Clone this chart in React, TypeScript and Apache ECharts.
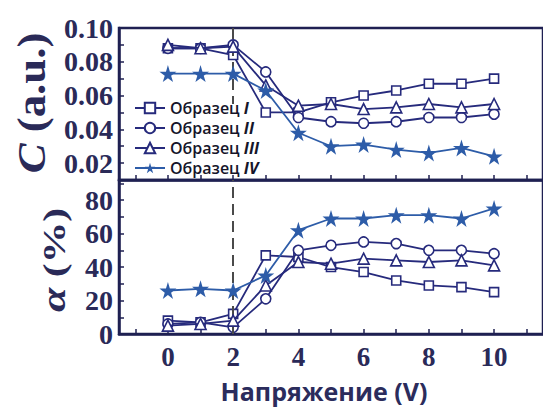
import React, { useEffect, useRef } from "react";
import * as echarts from "echarts";

const voltages = [0, 1, 2, 3, 4, 5, 6, 7, 8, 9, 10];
const seriesNames = ["Образец I", "Образец II", "Образец III", "Образец IV"];

// Top panel: C (a.u.)
const cSample1 = [0.088, 0.088, 0.084, 0.05, 0.05, 0.056, 0.06, 0.063, 0.067, 0.067, 0.07];
const cSample2 = [0.088, 0.088, 0.09, 0.074, 0.047, 0.0445, 0.0436, 0.0445, 0.047, 0.047, 0.049];
const cSample3 = [0.09, 0.088, 0.089, 0.066, 0.054, 0.055, 0.052, 0.053, 0.055, 0.053, 0.055];
const cSample4 = [0.073, 0.073, 0.073, 0.063, 0.038, 0.03, 0.031, 0.028, 0.026, 0.029, 0.024];

// Bottom panel: alpha (%)
const aSample1 = [8, 7, 12, 47, 46, 40, 37, 32, 29, 28, 25];
const aSample2 = [6, 7, 4, 21, 50, 53, 55, 54, 50, 50, 48];
const aSample3 = [5, 6, 8, 29, 43, 42, 45, 44, 43, 44, 41];
const aSample4 = [26, 27, 26, 35, 62, 69, 69, 71, 71, 69, 75];

const xTickValues = [-1, 0, 1, 2, 3, 4, 5, 6, 7, 8, 9, 10, 11];
const xLabelValues = [0, 2, 4, 6, 8, 10];

const NAVY = "#262a7c";
const STAR = "#2d5ca8";
const FRAME = "#1f2052";
const LABEL = "#2a2a58";

const STAR_PATH =
  "path://M50,0 L61,35 L98,35 L68,57 L79,91 L50,70 L21,91 L32,57 L2,35 L39,35 Z";

const styles = [
  { symbol: "rect", size: 9, color: "#fff", border: NAVY, line: NAVY, bw: 1.6 },
  { symbol: "circle", size: 10, color: "#fff", border: NAVY, line: NAVY, bw: 1.6 },
  { symbol: "triangle", size: 11, color: "#fff", border: NAVY, line: NAVY, bw: 1.6 },
  { symbol: STAR_PATH, size: 17, color: STAR, border: STAR, line: STAR, bw: 0 },
];

function zip(vals: number[]) {
  return voltages.map((v, i) => [v, vals[i]]);
}

export default function App() {
  const ref = useRef<HTMLDivElement>(null);
  useEffect(() => {
    if (!ref.current) return;
    const chart = echarts.init(ref.current, null, { renderer: "svg" });
    const cData = [cSample1, cSample2, cSample3, cSample4];
    const aData = [aSample1, aSample2, aSample3, aSample4];

    const mk = (name: string, idx: number, vals: number[], panel: number) => {
      const s = styles[idx];
      const o: any = {
        type: "line",
        name,
        xAxisIndex: panel,
        yAxisIndex: panel,
        data: zip(vals),
        symbol: s.symbol,
        symbolSize: s.size,
        showAllSymbol: true,
        lineStyle: { color: s.line, width: 1.8 },
        itemStyle: {
          color: s.color,
          borderColor: s.border,
          borderWidth: s.bw,
        },
        z: 3 + idx,
      };
      return o;
    };

    const series: any[] = [];
    seriesNames.forEach((n, i) => series.push(mk(n, i, cData[i], 0)));
    seriesNames.forEach((n, i) => series.push(mk(n, i, aData[i], 1)));

    series[0].markLine = {
      silent: true,
      symbol: "none",
      label: { show: false },
      lineStyle: { color: "#4a4a4a", type: [11, 6], width: 2 },
      data: [[{ coord: [2, 0.1] }, { coord: [2, 0.055] }]],
    };
    series[4].markLine = {
      silent: true,
      symbol: "none",
      label: { show: false },
      lineStyle: { color: "#4a4a4a", type: [11, 6], width: 2 },
      data: [{ xAxis: 2 }],
    };

    const xAxisBase = (grid: number, labels: boolean): any => ({
      type: "value",
      gridIndex: grid,
      min: -1.5,
      max: 11.5,
      axisLine: { show: true, onZero: false, lineStyle: { color: FRAME, width: 2.5 } },
      axisTick: {
        show: true,
        inside: true,
        length: 5,
        customValues: xTickValues,
        lineStyle: { color: FRAME, width: 1.5 },
      },
      axisLabel: labels
        ? {
            show: true,
            customValues: xLabelValues,
            formatter: (v: number) => String(v),
            fontFamily: "Liberation Serif",
            fontWeight: "bold",
            fontSize: 27,
            color: LABEL,
            margin: 9,
          }
        : { show: false },
      splitLine: { show: false },
    });

    const yLabelStyle = {
      fontFamily: "Liberation Serif",
      fontWeight: "bold",
      fontSize: 28,
      color: LABEL,
      margin: 6,
    };

    const option: any = {
      animation: false,
      backgroundColor: "#ffffff",
      grid: [
        {
          left: 119,
          top: 28,
          width: 448,
          height: 152,
          show: true,
          borderColor: FRAME,
          borderWidth: 2.5,
        },
        {
          left: 119,
          top: 180,
          width: 448,
          height: 154,
          show: true,
          borderColor: FRAME,
          borderWidth: 2.5,
        },
      ],
      xAxis: [xAxisBase(0, false), xAxisBase(1, true)],
      yAxis: [
        {
          type: "value",
          gridIndex: 0,
          min: 0.01,
          max: 0.1,
          interval: 0.01,
          axisLine: { show: true, onZero: false, lineStyle: { color: FRAME, width: 2.5 } },
          axisTick: { show: true, inside: true, length: 5, lineStyle: { color: FRAME, width: 1.5 } },
          axisLabel: {
            ...yLabelStyle,
            formatter: (v: number) => {
              const k = Math.round(v * 100);
              return k % 2 === 0 && k >= 2 ? (k / 100).toFixed(2) : "";
            },
          },
          splitLine: { show: false },
        },
        {
          type: "value",
          gridIndex: 1,
          min: 0,
          max: 92,
          interval: 10,
          axisLine: { show: true, onZero: false, lineStyle: { color: FRAME, width: 2.5 } },
          axisTick: { show: true, inside: true, length: 5, lineStyle: { color: FRAME, width: 1.5 } },
          axisLabel: {
            ...yLabelStyle,
            formatter: (v: number) => (v % 20 === 0 && v <= 80 ? String(v) : ""),
          },
          splitLine: { show: false },
        },
      ],
      legend: {
        data: seriesNames,
        orient: "vertical",
        left: 134,
        top: 99,
        itemWidth: 30,
        itemHeight: 13,
        itemGap: 2,
        padding: 0,
        formatter: (name: string) => {
          const parts = name.split(" ");
          return `${parts[0]} {i|${parts[1]}}`;
        },
        textStyle: {
          fontFamily: "Open Sans",
          fontSize: 16,
          fontWeight: 600,
          lineHeight: 18,
          color: "#15152a",
          padding: [0, 0, 0, 0],
          rich: {
            i: {
              fontFamily: "Open Sans",
              fontSize: 16,
              fontStyle: "italic",
              fontWeight: "bold",
              color: "#15152a",
            },
          },
        },
      },
      graphic: [
        {
          type: "text",
          x: 31,
          y: 103,
          rotation: Math.PI / 2,
          scaleX: 1.12,
          style: {
            text: "{i|C} (a.u.)",
            font: 'bold 40px "Liberation Serif"',
            fill: LABEL,
            align: "center",
            verticalAlign: "middle",
            rich: {
              i: { font: 'italic bold 40px "Liberation Serif"', fill: LABEL },
            },
          },
        },
        {
          type: "text",
          x: 54,
          y: 260,
          rotation: Math.PI / 2,
          scaleX: 1.3,
          style: {
            text: "{i|α} (%)",
            font: 'bold 32px "Liberation Serif"',
            fill: LABEL,
            align: "center",
            verticalAlign: "middle",
            rich: {
              i: { font: 'italic bold 34px "Liberation Serif"', fill: LABEL },
            },
          },
        },
        {
          type: "text",
          x: 324,
          y: 391,
          style: {
            text: "Напряжение (V)",
            font: 'bold 25px "Open Sans"',
            fill: "#2b2c5c",
            align: "center",
            verticalAlign: "middle",
          },
        },
      ],
      series,
    };
    chart.setOption(option);
    return () => chart.dispose();
  }, []);
  return (
    <div
      ref={ref}
      style={{ position: "absolute", left: 0, top: 0, width: 543, height: 408, overflow: "hidden" }}
    />
  );
}
